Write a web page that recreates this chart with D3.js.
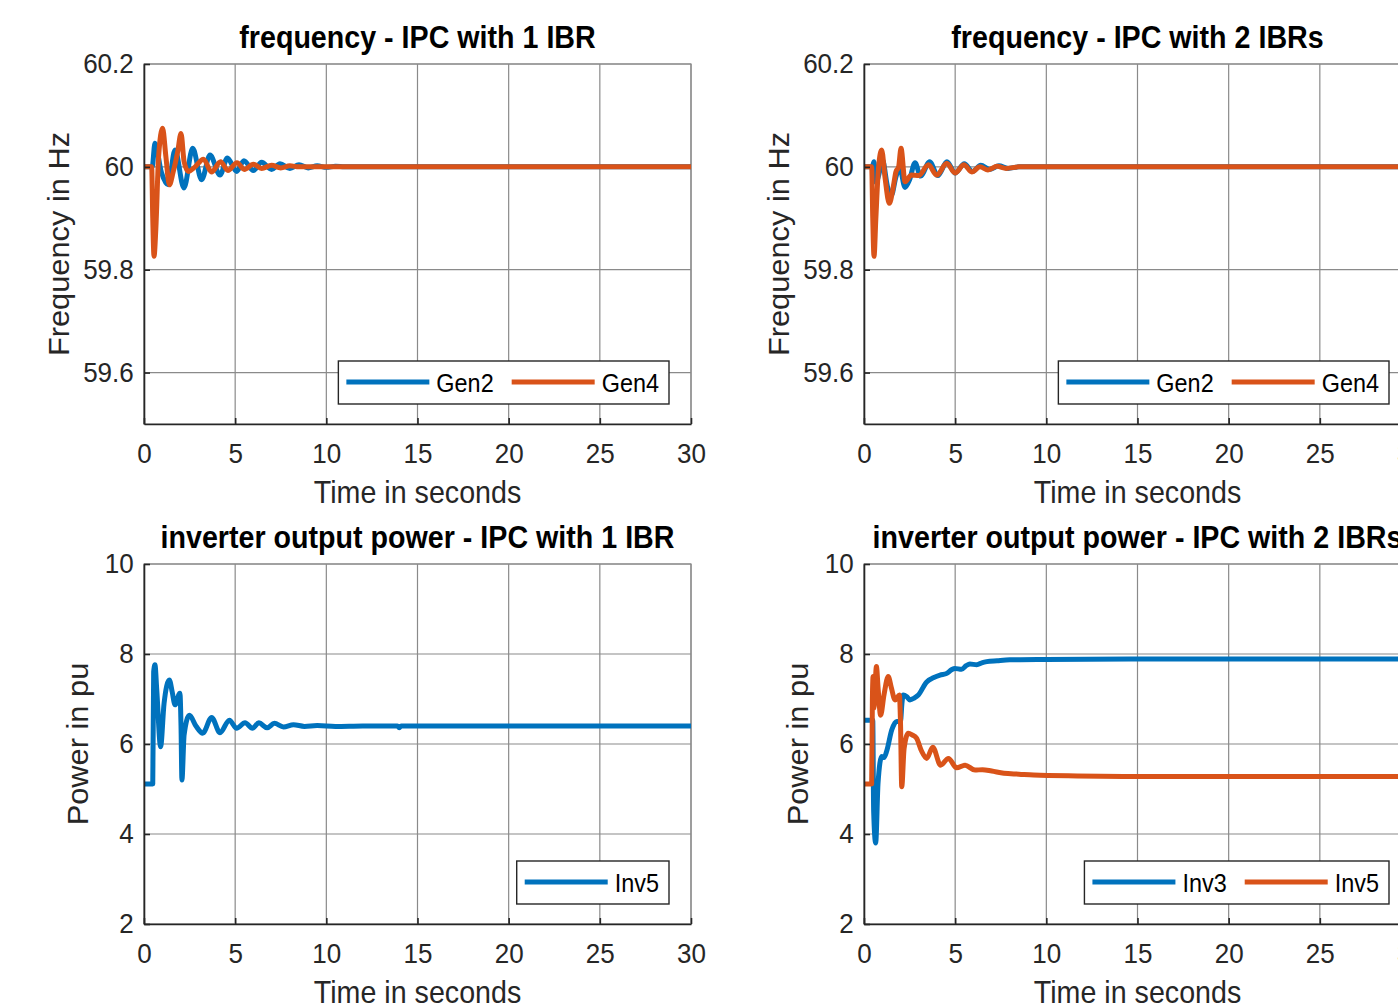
<!DOCTYPE html>
<html>
<head>
<meta charset="utf-8">
<script src="https://cdn.jsdelivr.net/npm/d3@7"></script>
<style>
  body { margin: 0; background: #fff; }
  svg { display: block; }
  text { font-family: "Liberation Sans", Arial, Helvetica, sans-serif; }
</style>
</head>
<body>
<svg id="fig"></svg>
<script>
// ---- data ----
var timeTicks = [0, 5, 10, 15, 20, 25, 30];
var freqTicks = [59.6, 59.8, 60, 60.2];
var freqDomain = [59.5, 60.2];
var powerTicks = [2, 4, 6, 8, 10];
var powerDomain = [2, 10];

// frequency, IPC with 1 IBR  [t, Hz]
var freqGen2One = [[0,60],[0.45,60],[0.6,60.046],[0.95,59.99],[1.33,59.965],[1.7,60.033],[2.19,59.959],
  [2.67,60.036],[3.16,59.975],[3.62,60.023],[4.17,59.984],[4.57,60.017],[5.08,59.991],[5.48,60.012],
  [6.0,59.993],[6.45,60.009],[7.0,59.995],[7.46,60.006],[8.0,59.997],[8.5,60.004],[9.0,59.998],
  [9.5,60.002],[10.0,59.999],[10.5,60.001],[11,60],[30,60]];
var freqGen4One = [[0,60],[0.42,60],[0.48,59.9],[0.55,59.826],[0.65,59.88],[0.8,60.02],[1.02,60.075],
  [1.2,60.02],[1.39,59.965],[1.6,59.99],[1.85,60.03],[2.03,60.065],[2.2,60.01],[2.43,59.991],[2.8,60.0],
  [3.26,60.015],[3.7,59.99],[4.2,60.01],[4.6,59.993],[5.1,60.008],[5.5,59.995],[6.0,60.005],
  [6.45,59.997],[7.0,60.003],[7.5,59.998],[8.0,60.002],[8.5,60],[30,60]];

// frequency, IPC with 2 IBRs
var freqGen2Two = [[0,60],[0.45,60],[0.55,60.01],[0.65,59.97],[0.85,59.99],[1.0,60.015],[1.3,59.96],
  [1.5,59.945],[1.75,59.98],[1.95,60.0],[2.25,59.96],[2.5,59.975],[2.8,60.008],[3.1,59.982],
  [3.6,60.01],[4.05,59.983],[4.55,60.01],[5.0,59.988],[5.5,60.006],[5.95,59.991],[6.4,60.003],
  [6.9,59.995],[7.4,60.002],[7.9,59.997],[8.5,60.0],[30,60]];
var freqGen4Two = [[0,60],[0.42,60],[0.48,59.9],[0.55,59.826],[0.65,59.9],[0.8,60.0],[0.97,60.033],
  [1.15,59.98],[1.39,59.929],[1.6,59.96],[1.75,59.99],[1.9,60.0],[2.03,60.036],[2.25,59.971],
  [2.6,59.984],[3.0,59.983],[3.53,60.004],[3.99,59.984],[4.54,60.007],[4.99,59.988],[5.48,60.004],
  [5.91,59.99],[6.36,60.0],[6.8,59.994],[7.3,60.001],[7.8,59.997],[8.5,60],[30,60]];

// inverter output power, IPC with 1 IBR  [t, pu]
var powInv5One = [[0,5.11],[0.48,5.11],[0.53,7.6],[0.6,7.76],[0.7,7.2],[0.91,5.94],[1.1,6.9],
  [1.39,7.42],[1.55,7.15],[1.7,6.87],[1.97,7.13],[2.03,6.4],[2.08,5.2],[2.2,6.2],[2.49,6.64],
  [2.85,6.4],[3.22,6.24],[3.71,6.59],[4.17,6.25],[4.68,6.53],[5.08,6.35],[5.54,6.47],[5.95,6.35],
  [6.3,6.47],[6.75,6.36],[7.15,6.46],[7.65,6.38],[8.2,6.43],[8.8,6.39],[9.5,6.41],[10.5,6.39],
  [12,6.4],[13.9,6.4],[14.0,6.36],[14.1,6.4],[30,6.4]];

// inverter output power, IPC with 2 IBRs
var powInv3Two = [[0,6.53],[0.48,6.53],[0.53,4.5],[0.64,3.8],[0.77,5.13],[0.97,5.72],[1.1,5.7],
  [1.25,5.85],[1.52,6.31],[1.79,6.5],[2.0,6.5],[2.08,6.9],[2.15,7.09],[2.35,7.05],[2.52,6.98],
  [2.75,7.02],[2.98,7.09],[3.44,7.38],[3.8,7.47],[4.17,7.53],[4.54,7.57],[4.8,7.65],[4.99,7.68],
  [5.35,7.66],[5.6,7.74],[5.81,7.78],[6.18,7.76],[6.5,7.81],[6.73,7.83],[7.3,7.85],[8.0,7.87],
  [10,7.88],[15,7.89],[30,7.89]];
var powInv5Two = [[0,5.11],[0.42,5.11],[0.46,7.0],[0.5,7.5],[0.55,6.8],[0.6,7.2],[0.68,7.72],
  [0.78,7.2],[0.91,6.64],[1.1,7.1],[1.33,7.5],[1.5,7.25],[1.7,6.98],[1.94,7.09],[2.0,6.5],
  [2.07,5.05],[2.2,5.9],[2.43,6.24],[2.65,6.2],[2.88,6.13],[3.15,5.85],[3.44,5.68],[3.77,5.93],
  [4.2,5.53],[4.63,5.68],[5.08,5.47],[5.54,5.53],[6.09,5.42],[6.5,5.43],[7.0,5.4],[7.67,5.35],
  [8.5,5.33],[9.3,5.31],[11.7,5.29],[15,5.28],[30,5.28]];

var blue = "#0072BD", orange = "#D95319";
var SX = 0.93;   // the figure is a little narrow horizontally

var W = 1398, H = 1004;
var svg = d3.select("#fig").attr("width", W).attr("height", H);

function panel(o){
    var x = d3.scaleLinear().domain([0, 30]).range([o.x0, o.x1]);
    var y = d3.scaleLinear().domain(o.domain).range([o.y1, o.y0]);
    var g = svg.append("g");

    var clipId = "clip" + o.id;
    g.append("clipPath").attr("id", clipId)
      .append("rect").attr("x", o.x0).attr("y", o.y0)
      .attr("width", o.x1 - o.x0).attr("height", o.y1 - o.y0);

    // grid
    g.append("g").selectAll("line").data(timeTicks).enter().append("line")
      .attr("x1", d => x(d)).attr("x2", d => x(d))
      .attr("y1", o.y0).attr("y2", o.y1)
      .attr("stroke", "#8a8a8a").attr("stroke-width", 1.2);
    g.append("g").selectAll("line").data(o.ticks).enter().append("line")
      .attr("x1", o.x0).attr("x2", o.x1)
      .attr("y1", d => y(d)).attr("y2", d => y(d))
      .attr("stroke", "#8a8a8a").attr("stroke-width", 1.2);
    g.append("rect").attr("x", o.x0).attr("y", o.y0)
      .attr("width", o.x1 - o.x0).attr("height", o.y1 - o.y0)
      .attr("fill", "none").attr("stroke", "#8a8a8a").attr("stroke-width", 1.2);

    // curves
    var line = d3.line().x(d => x(d[0])).y(d => y(d[1])).curve(d3.curveMonotoneX);
    g.append("g").attr("clip-path", "url(#" + clipId + ")")
      .selectAll("path").data(o.series).enter().append("path")
      .attr("d", d => line(d.data))
      .attr("fill", "none").attr("stroke", d => d.color)
      .attr("stroke-width", 5).attr("stroke-linejoin", "round");

    // axes
    var xa = g.append("g").attr("transform", "translate(0," + o.y1 + ")")
      .call(d3.axisBottom(x).tickValues(timeTicks).tickSizeInner(-6).tickSizeOuter(0).tickFormat(d3.format("d")));
    var ya = g.append("g").attr("transform", "translate(" + o.x0 + ",0)")
      .call(d3.axisLeft(y).tickValues(o.ticks).tickSizeInner(-6).tickSizeOuter(0).tickPadding(11).tickFormat(d => String(d)));
    [xa, ya].forEach(function(a){
        a.attr("font-size", 28).attr("font-family", null).attr("color", "#262626");
        a.select(".domain").attr("stroke-width", 1.6);
        a.selectAll(".tick line").attr("stroke-width", 1.6);
        a.selectAll("text").attr("fill", "#262626").attr("transform", "scale(" + SX + ",1)");
    });
    xa.selectAll("text").attr("y", 39).attr("dy", null);

    var cx = (o.x0 + o.x1) / 2;
    // title
    g.append("text").attr("transform", "translate(" + cx + "," + (o.y0 - 16) + ") scale(" + SX + ",1)")
      .attr("text-anchor", "middle").attr("font-size", 30.8).attr("font-weight", "bold")
      .attr("fill", "#000").text(o.title);
    // x label
    g.append("text").attr("transform", "translate(" + cx + "," + (o.y1 + 79) + ") scale(" + SX + ",1)")
      .attr("text-anchor", "middle").attr("font-size", 30.8).attr("fill", "#262626")
      .text("Time in seconds");
    // y label
    g.append("text").attr("transform", "translate(" + (o.x0 - o.ylabOff) + "," + ((o.y0 + o.y1) / 2) + ") scale(" + SX + ",1) rotate(-90)")
      .attr("text-anchor", "middle").attr("font-size", 30.8).attr("fill", "#262626")
      .text(o.ylabel);

    // legend
    var lg = g.append("g");
    var box = lg.append("rect").attr("fill", "#fff").attr("stroke", "#262626").attr("stroke-width", 1.4);
    var cur = 8;
    o.series.forEach(function(s){
        lg.append("line").attr("x1", cur).attr("x2", cur + 83).attr("y1", 21).attr("y2", 21)
          .attr("stroke", s.color).attr("stroke-width", 5);
        var t = lg.append("text").attr("transform", "translate(" + (cur + 90) + ",31) scale(" + SX + ",1)")
          .attr("font-size", 25.2).attr("fill", "#000").text(s.name);
        var tw = t.node().getComputedTextLength() * SX;
        cur += 90 + tw + 18;
    });
    var bw = cur - 18 + 10, bh = 43;
    box.attr("x", 0).attr("y", 0).attr("width", bw).attr("height", bh);
    lg.attr("transform", "translate(" + (o.x1 - 22 - bw) + "," + (o.y1 - 20 - bh) + ")");
}

panel({id: 1, x0: 144, x1: 691, y0: 64, y1: 424, domain: freqDomain, ticks: freqTicks,
       title: "frequency - IPC with 1 IBR", ylabel: "Frequency in Hz", ylabOff: 75,
       series: [{name: "Gen2", data: freqGen2One, color: blue}, {name: "Gen4", data: freqGen4One, color: orange}]});
panel({id: 2, x0: 864, x1: 1411, y0: 64, y1: 424, domain: freqDomain, ticks: freqTicks,
       title: "frequency - IPC with 2 IBRs", ylabel: "Frequency in Hz", ylabOff: 75,
       series: [{name: "Gen2", data: freqGen2Two, color: blue}, {name: "Gen4", data: freqGen4Two, color: orange}]});
panel({id: 3, x0: 144, x1: 691, y0: 564, y1: 924, domain: powerDomain, ticks: powerTicks,
       title: "inverter output power - IPC with 1 IBR", ylabel: "Power in pu", ylabOff: 56,
       series: [{name: "Inv5", data: powInv5One, color: blue}]});
panel({id: 4, x0: 864, x1: 1411, y0: 564, y1: 924, domain: powerDomain, ticks: powerTicks,
       title: "inverter output power - IPC with 2 IBRs", ylabel: "Power in pu", ylabOff: 56,
       series: [{name: "Inv3", data: powInv3Two, color: blue}, {name: "Inv5", data: powInv5Two, color: orange}]});
</script>
</body>
</html>
